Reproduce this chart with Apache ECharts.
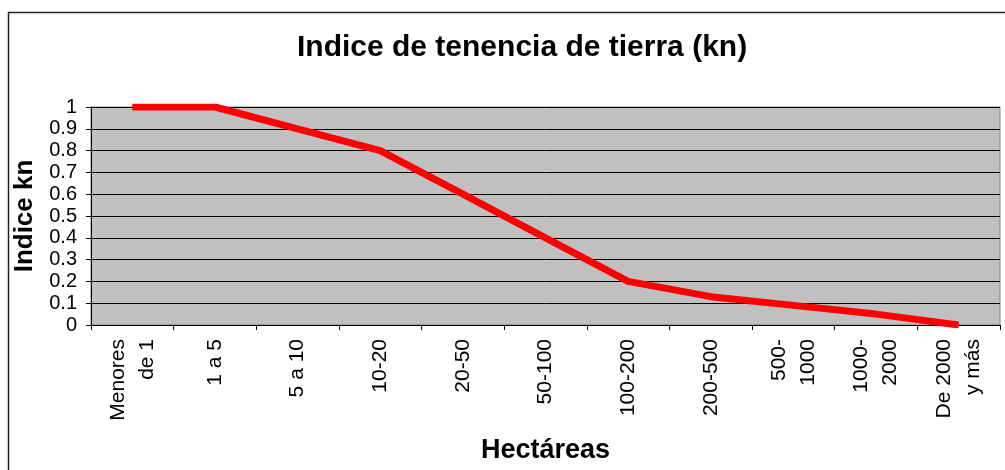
<!DOCTYPE html>
<html>
<head>
<meta charset="utf-8">
<script src="https://cdn.jsdelivr.net/npm/echarts@6/dist/echarts.min.js"></script>
<style>
    html, body { margin: 0; padding: 0; background: #fff; }
    #chart { width: 1005px; height: 470px; }
</style>
</head>
<body>
<div id="chart"></div>
<script>
// datos
const categorias = ['Menores\nde 1', '1 a 5', '5 a 10', '10-20', '20-50', '50-100',
    '100-200', '200-500', '500-\n1000', '1000-\n2000', 'De 2000\ny más'];
const indiceKn = [1, 1, 0.9, 0.8, 0.6, 0.4, 0.2, 0.13, 0.09, 0.05, 0];
const yTicks = [0, 0.1, 0.2, 0.3, 0.4, 0.5, 0.6, 0.7, 0.8, 0.9, 1];

const fuente = '"Liberation Sans", Arial, sans-serif';
let myChart = echarts.init(document.getElementById('chart'));

let option = {
    animation: false,
    backgroundColor: '#fff',
    title: {
        text: 'Indice de tenencia de tierra (kn)',
        left: 292,
        top: 28,
        textStyle: { fontFamily: fuente, fontSize: 30, fontWeight: 'bold', color: '#000' }
    },
    graphic: [{
        type: 'rect',
        shape: { x: 8.5, y: 12.5, width: 1100, height: 600 },
        style: { fill: 'none', stroke: '#222', lineWidth: 1.5 },
        silent: true
    }],
    grid: {
        left: 91, right: 5, top: 107, bottom: 145,
        show: true,
        backgroundColor: '#C0C0C0',
        borderColor: '#808080',
        borderWidth: 1
    },
    xAxis: {
        type: 'category',
        data: categorias,
        boundaryGap: true,
        name: 'Hectáreas',
        nameLocation: 'middle',
        nameGap: 112,
        nameTextStyle: { fontFamily: fuente, fontSize: 27, fontWeight: 'bold', color: '#000' },
        axisLine: { lineStyle: { color: '#000', width: 1 } },
        axisTick: { show: true, length: 5, alignWithLabel: false, lineStyle: { color: '#000' } },
        axisLabel: {
            rotate: 90,
            margin: 14,
            interval: 0,
            fontFamily: fuente,
            fontSize: 21,
            lineHeight: 29,
            color: '#000'
        },
        splitLine: { show: false }
    },
    yAxis: {
        type: 'value',
        min: 0,
        max: 1,
        interval: 0.1,
        name: 'Indice kn',
        nameLocation: 'middle',
        nameGap: 43,
        nameTextStyle: { fontFamily: fuente, fontSize: 26, fontWeight: 'bold', color: '#000' },
        axisLine: { show: true, lineStyle: { color: '#000', width: 1 } },
        axisTick: { show: true, length: 5, lineStyle: { color: '#000' } },
        axisLabel: {
            margin: 14,
            fontFamily: fuente,
            fontSize: 20,
            color: '#000',
            formatter: function (v) {
                let t = yTicks.find(k => Math.abs(k - v) < 1e-6);
                return t === undefined ? '' : String(t);
            }
        },
        splitLine: { show: true, lineStyle: { color: '#000', width: 1 } }
    },
    series: [{
        type: 'line',
        data: indiceKn,
        symbol: 'none',
        lineStyle: { color: '#FF0000', width: 7 },
        itemStyle: { color: '#FF0000' },
        z: 3
    }]
};
myChart.setOption(option);
</script>
</body>
</html>
